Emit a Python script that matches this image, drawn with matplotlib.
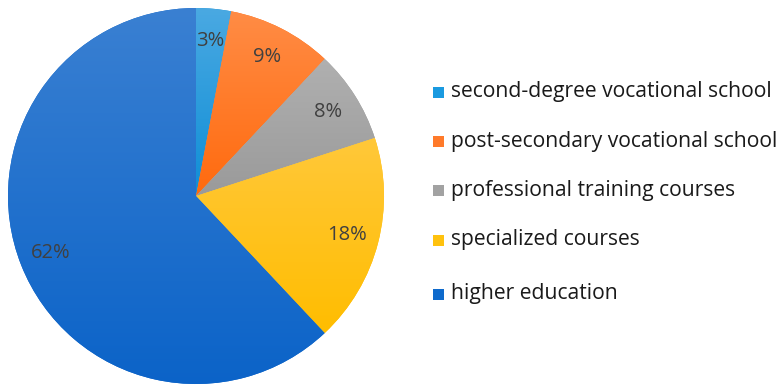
import numpy as np
import matplotlib.pyplot as plt
from matplotlib.colors import LinearSegmentedColormap

labels = ["second-degree vocational school", "post-secondary vocational school",
          "professional training courses", "specialized courses", "higher education"]
shares = [3, 9, 8, 18, 62]
top_colors = ["#4aa9e2", "#ff8c45", "#b0b0b0", "#ffc83a", "#3a80d2"]
bottom_colors = ["#0f8ed6", "#ff6a0e", "#9a9a9a", "#ffbd00", "#0b63c8"]
legend_colors = ["#1a9ae0", "#ff7a2a", "#a2a2a2", "#ffc20e", "#0e6acc"]

plt.rcParams['font.family'] = ['Open Sans', 'DejaVu Sans']

fig = plt.figure(figsize=(7.81, 3.85), dpi=100)
ax = fig.add_axes([8 / 781, 1 / 385, 376 / 781, 376 / 385])
wedges, texts, autotexts = ax.pie(shares, startangle=90, counterclock=False,
                                  colors=bottom_colors, radius=1,
                                  autopct="%d%%", pctdistance=0.83,
                                  textprops=dict(color="#404040", fontsize=14.5))
# vertical gradient inside each slice
grad = np.linspace(0, 1, 256).reshape(-1, 1)
for w, c0, c1 in zip(wedges, top_colors, bottom_colors):
    cmap = LinearSegmentedColormap.from_list("g", [c1, c0])
    path = w.get_path().transformed(w.get_patch_transform())
    x0, y0 = path.vertices.min(axis=0)
    x1, y1 = path.vertices.max(axis=0)
    im = ax.imshow(grad, cmap=cmap, extent=[x0, x1, y0, y1], origin="lower",
                   aspect="auto", zorder=w.get_zorder() + 0.1)
    im.set_clip_path(w)
for t in autotexts:
    t.set_zorder(5)
ax.set_xlim(-1, 1)
ax.set_ylim(-1, 1)
ax.set_aspect("equal")
ax.axis("off")

# legend on the right
leg_y = [92, 141, 190, 240, 294]
for lab, col, y in zip(labels, legend_colors, leg_y):
    fig.patches.append(plt.Rectangle((433 / 781, (385 - y - 6) / 385), 11 / 781, 11 / 385,
                                     transform=fig.transFigure, facecolor=col, edgecolor="none"))
    fig.text(451 / 781, (385 - y) / 385, lab, fontsize=15.2, color="#1a1a1a",
             va="center", ha="left")

fig.savefig("out.png", dpi=100)
